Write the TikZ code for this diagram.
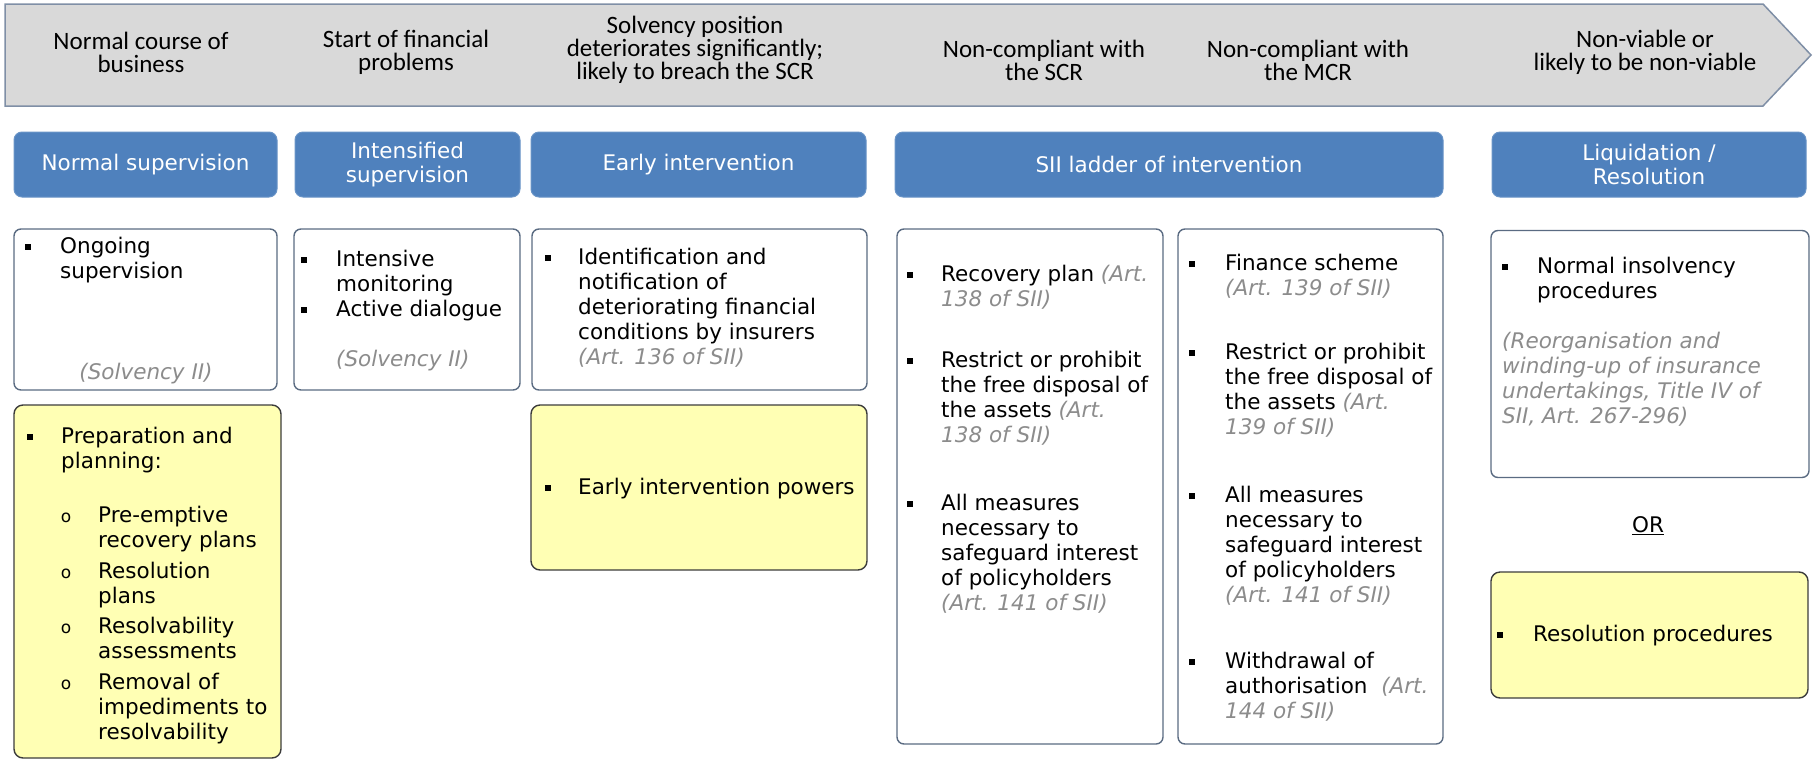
\documentclass[tikz,border=0pt]{standalone}
\usepackage{fontspec}
\setmainfont{DejaVu Sans}
\newfontfamily\bannerfont{Carlito}
\definecolor{bannerfill}{HTML}{D9D9D9}
\definecolor{bannerline}{HTML}{7F8FA6}
\definecolor{hdrblue}{HTML}{4F81BD}
\definecolor{boxline}{HTML}{5A6B82}
\definecolor{yelfill}{HTML}{FFFFB4}
\definecolor{yelline}{HTML}{3C3C3C}
\definecolor{citegray}{HTML}{8C8C8C}
\newcommand{\citeg}[1]{{\color{citegray}\itshape #1}}
\begin{document}
\begin{tikzpicture}[x=1pt,y=-1pt,
  banner/.style={fill=bannerfill, draw=bannerline, line width=1.5pt, line join=miter},
  btext/.style={font=\bannerfont\fontsize{25}{23}\selectfont, align=center, inner sep=0, text=black},
  hdr/.style={fill=hdrblue, draw=hdrblue!85!white, line width=1pt, rounded corners=8pt, text=white,
    font=\fontsize{21.5}{24}\selectfont, align=center, inner sep=0},
  wbox/.style={draw=boxline, line width=1.4pt, rounded corners=7pt, fill=white, inner sep=0},
  ybox/.style={draw=yelline, line width=1.4pt, rounded corners=9pt, fill=yelfill, inner sep=0},
  body/.style={font=\fontsize{21.5}{25}\selectfont, align=left, inner sep=0, anchor=north west},
  oneline/.style={font=\fontsize{21.5}{25}\selectfont, inner sep=0, anchor=base west},
  citestyle/.style={font=\fontsize{21.5}{25}\selectfont\itshape, text=citegray, inner sep=0},
  sq/.style={fill=black, inner sep=0, minimum size=5.5pt, shape=rectangle},
  subo/.style={font=\fontsize{17}{20}\selectfont, inner sep=0, anchor=base}]
\useasboundingbox (0,0) rectangle (1815,761);

% banner arrow
\draw[banner] (5,4) -- (1763,4) -- (1811,55) -- (1763,106) -- (5,106) -- cycle;
\node[btext] (s1) at (141,52) {Normal course of\\business};
\node[btext] (s2) at (406,52) {Start of financial\\problems};
\node[btext] (s3) at (695,50) {Solvency position\\deteriorates significantly;\\likely to breach the SCR};
\node[btext] (s4) at (1044,60) {Non-compliant with\\the SCR};
\node[btext] (s5) at (1308,60) {Non-compliant with\\the MCR};
\node[btext] (s6) at (1645,52) {Non-viable or\\likely to be non-viable};

% blue headers
\node[hdr, minimum width=263pt, minimum height=65pt] (h1) at (145.5,164.5) {Normal supervision};
\node[hdr, minimum width=225pt, minimum height=65pt] (h2) at (407.5,164.5) {Intensified\\supervision};
\node[hdr, minimum width=335pt, minimum height=65pt] (h3) at (698.5,164.5) {Early intervention};
\node[hdr, minimum width=548pt, minimum height=65pt] (h4) at (1169,164.5) {SII ladder of intervention};
\node[hdr, minimum width=314pt, minimum height=65pt] (h5) at (1649,164.5) {Liquidation /\\Resolution};

% white boxes
\node[wbox, minimum width=263pt, minimum height=161pt] (w1) at (145.5,309.5) {};
\node[wbox, minimum width=226pt, minimum height=161pt] (w2) at (407,309.5) {};
\node[wbox, minimum width=335pt, minimum height=161pt] (w3) at (699.5,309.5) {};
\node[wbox, minimum width=266pt, minimum height=515pt] (w4) at (1030,486.5) {};
\node[wbox, minimum width=265pt, minimum height=515pt] (w5) at (1310.5,486.5) {};
\node[wbox, minimum width=318pt, minimum height=247pt] (w6) at (1650,354) {};

% yellow boxes
\node[ybox, minimum width=267pt, minimum height=353pt] (y1) at (147.5,581.5) {};
\node[ybox, minimum width=336pt, minimum height=165pt] (y2) at (699,487.5) {};
\node[ybox, minimum width=317pt, minimum height=126pt] (y3) at (1649.5,635) {};

% Normal supervision content
\node[sq] (b1) at (28,247) {};
\node[body] (t1) at (60,235.5) {\strut Ongoing\\supervision};
\node[citestyle, anchor=base] (c1) at (146,379) {(Solvency II)};

% Intensified supervision content
\node[sq] (b2) at (304,260) {};
\node[sq] (b3) at (304,310) {};
\node[body] (t2) at (336,248.5) {\strut Intensive\\monitoring\\Active dialogue};
\node[citestyle, anchor=base west] (c2) at (336,366) {(Solvency II)};

% Early intervention content
\node[sq] (b4) at (548,258) {};
\node[body] (t3) at (578,246.5) {\strut Identification and\\notification of\\deteriorating financial\\conditions by insurers\\\citeg{(Art. 136 of SII)}};
\node[sq] (b5) at (548,488) {};
\node[oneline] (t4) at (578,494) {Early intervention powers};

% Preparation and planning
\node[sq] (b6) at (30,437) {};
\node[body] (t5) at (61,425.5) {\strut Preparation and\\planning:};
\node[subo] (o1) at (66,522) {o};
\node[body] (t6) at (98,504.5) {\strut Pre-emptive\\recovery plans};
\node[subo] (o2) at (66,578) {o};
\node[body] (t7) at (98,560.5) {\strut Resolution\\plans};
\node[subo] (o3) at (66,633) {o};
\node[body] (t8) at (98,615.5) {\strut Resolvability\\assessments};
\node[subo] (o4) at (66,689) {o};
\node[body] (t9) at (98,671.5) {\strut Removal of\\impediments to\\resolvability};

% SII ladder: SCR column
\node[sq] (b7) at (910,275) {};
\node[body] (t10) at (941,263.5) {\strut Recovery plan \citeg{(Art.}\\\citeg{138 of SII)}};
\node[sq] (b8) at (910,361) {};
\node[body] (t11) at (941,349.5) {\strut Restrict or prohibit\\the free disposal of\\the assets \citeg{(Art.}\\\citeg{138 of SII)}};
\node[sq] (b9) at (910,504) {};
\node[body] (t12) at (941,492.5) {\strut All measures\\necessary to\\safeguard interest\\of policyholders\\\citeg{(Art. 141 of SII)}};

% SII ladder: MCR column
\node[sq] (b10) at (1192,264) {};
\node[body] (t13) at (1225,252.5) {\strut Finance scheme\\\citeg{(Art. 139 of SII)}};
\node[sq] (b11) at (1192,353) {};
\node[body] (t14) at (1225,341.5) {\strut Restrict or prohibit\\the free disposal of\\the assets \citeg{(Art.}\\\citeg{139 of SII)}};
\node[sq] (b12) at (1192,496) {};
\node[body] (t15) at (1225,484.5) {\strut All measures\\necessary to\\safeguard interest\\of policyholders\\\citeg{(Art. 141 of SII)}};
\node[sq] (b13) at (1192,662) {};
\node[body] (t16) at (1225,650.5) {\strut Withdrawal of\\authorisation\ \ \citeg{(Art.}\\\citeg{144 of SII)}};

% Liquidation / Resolution
\node[sq] (b14) at (1505,267) {};
\node[body] (t17) at (1537,255.5) {\strut Normal insolvency\\procedures};
\node[citestyle, align=left, anchor=north west] (c3) at (1502,330.5) {\strut (Reorganisation and\\winding-up of insurance\\undertakings, Title IV of\\SII, Art. 267-296)};
\node[oneline, anchor=base] (or) at (1648,532) {\underline{OR}};
\node[sq] (b15) at (1500,635) {};
\node[oneline] (t18) at (1533,641) {Resolution procedures};
\end{tikzpicture}
\end{document}
